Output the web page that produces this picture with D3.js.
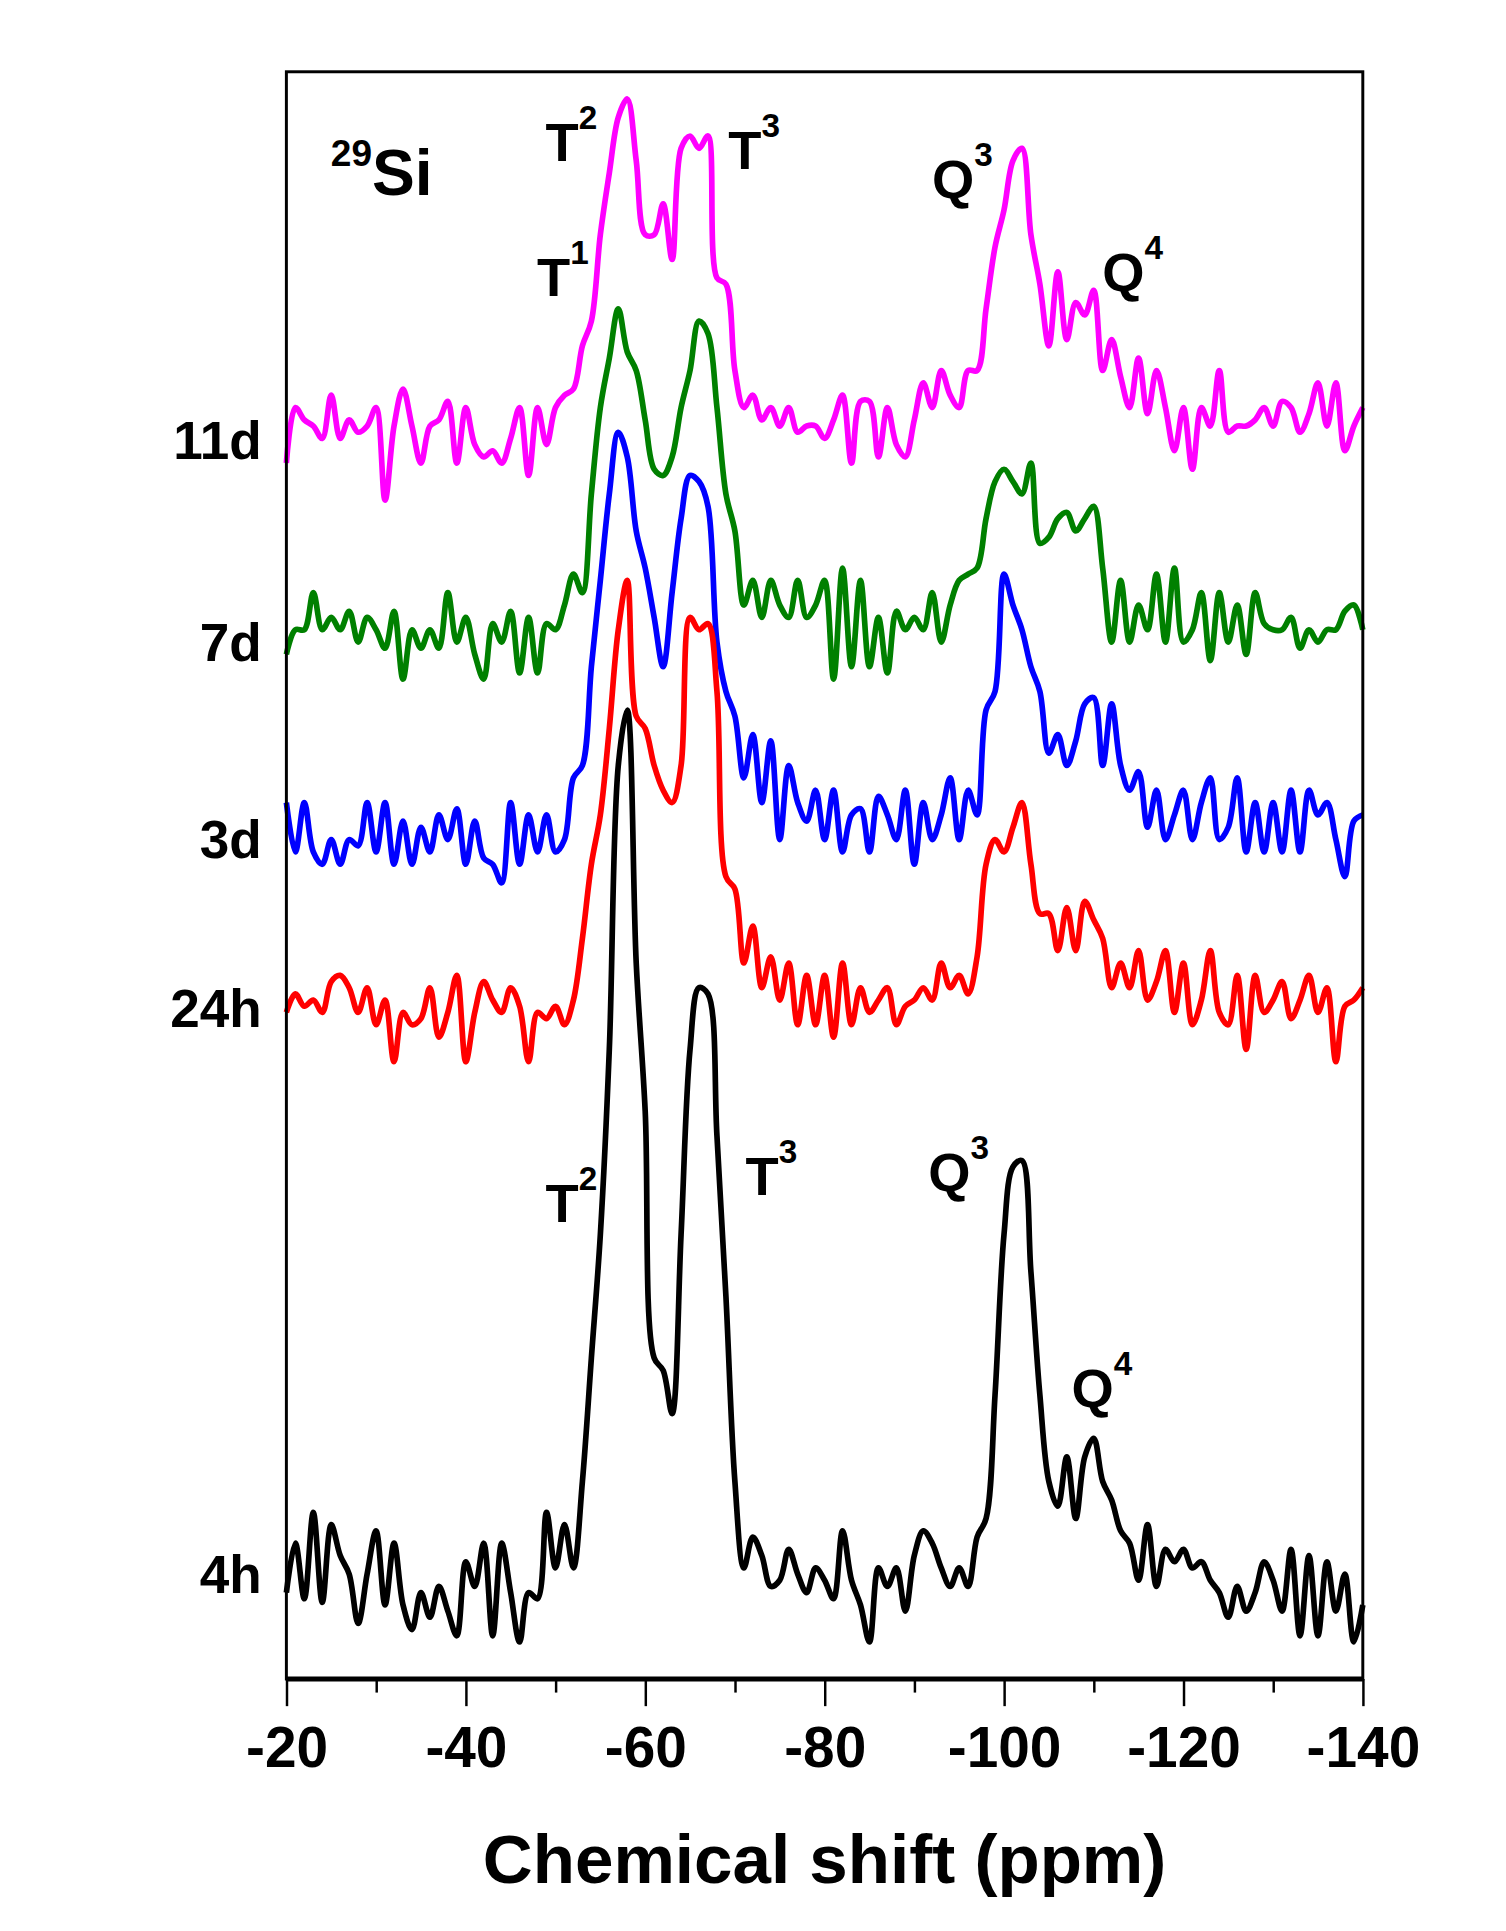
<!DOCTYPE html>
<html><head><meta charset="utf-8">
<script src="https://cdn.jsdelivr.net/npm/d3@7"></script>
<style>body{margin:0;background:#fff}text{font-family:"Liberation Sans",Arial,sans-serif;font-weight:bold}</style>
</head><body><svg id="c" width="1506" height="1931" viewBox="0 0 1220 1564"></svg>
<script>
const ppm = d3.range(-20,-141,-1);
// read trace heights (arbitrary units, larger = lower on the page)
const s4h=[1290,1250,1295,1225,1298,1235,1260,1275,1315,1275,1240,1300,1250,1300,1320,1290,1310,1285,1305,1325,1265,1285,1250,1325,1250,1290,1330,1290,1295,1225,1270,1235,1270,1200,1100,1000,850,620,575,780,900,1100,1110,1145,1000,850,800,805,920,1050,1200,1270,1245,1260,1285,1280,1255,1275,1290,1270,1280,1295,1240,1280,1300,1330,1270,1285,1270,1305,1260,1240,1250,1270,1285,1270,1285,1245,1230,1130,1000,945,940,1030,1130,1200,1220,1180,1230,1180,1165,1200,1215,1240,1250,1280,1235,1285,1255,1265,1255,1270,1265,1280,1290,1310,1285,1305,1290,1265,1280,1305,1255,1325,1260,1325,1265,1305,1275,1330,1300];
const s24h=[820,805,815,810,820,795,790,800,820,800,830,810,860,820,830,825,800,840,820,790,860,820,795,810,820,800,815,860,820,825,815,830,810,760,700,660,590,510,470,580,590,620,640,650,620,500,510,505,560,710,720,780,750,800,775,810,780,830,790,830,790,840,780,830,800,820,810,800,830,815,810,800,810,780,800,790,805,775,700,680,690,670,650,700,740,740,770,735,770,730,745,760,800,780,800,770,810,795,770,820,780,830,810,770,820,830,790,850,790,820,810,795,825,810,790,820,800,860,815,810,800];
const s3d=[650,690,650,690,700,680,700,680,685,650,690,650,700,665,700,670,690,660,680,655,700,665,695,700,715,650,700,660,690,660,690,680,630,620,540,470,400,350,370,430,460,500,540,480,420,385,390,410,520,560,580,630,595,650,600,680,620,650,665,640,680,640,690,660,655,690,645,660,680,640,700,650,680,660,630,680,640,660,575,560,465,490,510,540,560,610,595,620,600,570,565,620,570,620,640,625,670,640,680,660,640,680,650,630,680,670,630,690,650,690,650,690,640,690,640,660,650,680,710,665,660];
const s7d=[530,510,510,480,510,500,510,495,520,500,510,525,495,550,510,525,510,525,480,520,500,530,550,505,520,495,545,500,545,505,510,490,465,480,400,330,290,250,285,300,340,380,385,370,330,300,260,270,330,400,430,490,470,500,470,490,500,470,500,490,470,550,460,540,470,540,500,545,495,510,500,510,480,520,490,470,465,460,420,390,380,390,400,375,440,435,420,415,430,420,410,460,520,470,520,490,510,465,520,460,520,510,480,535,480,520,490,530,480,505,510,510,500,525,510,520,510,510,495,490,510];
const s11d=[375,330,340,345,355,320,355,340,350,345,330,405,345,315,345,375,345,340,325,375,330,360,370,365,375,355,330,385,330,360,330,320,315,280,260,190,140,95,80,130,190,190,165,210,120,110,120,110,225,230,300,330,320,340,330,345,330,350,345,345,355,340,320,375,325,325,370,330,360,370,340,310,330,300,320,330,300,300,250,200,170,130,120,190,230,280,220,275,245,255,235,300,275,305,330,290,335,300,330,365,330,380,330,345,300,350,345,345,340,330,345,325,330,350,335,310,345,310,365,345,330];
const series=[{n:"4h",c:"#000000",v:s4h},{n:"24h",c:"#ff0000",v:s24h},{n:"3d",c:"#0000ff",v:s3d},{n:"7d",c:"#008000",v:s7d},{n:"11d",c:"#ff00ff",v:s11d}];
const labels=[{t:"11d",y:357},{t:"7d",y:520},{t:"3d",y:680},{t:"24h",y:817},{t:"4h",y:1275}];
const xTicks=[-20,-40,-60,-80,-100,-120,-140];
const L=232,R=1104,T=58,B=1360;
const svg=d3.select("#c");
const x=d3.scaleLinear().domain([-20,-140]).range([L,R]);
const y=d3.scaleLinear().domain([T,B]).range([T,B]);
const line=d3.line().x((d,i)=>x(ppm[i])).y(d=>y(d)).curve(d3.curveCatmullRom.alpha(0.5));
series.slice().reverse().forEach(s=>svg.append("path").attr("d",line(s.v)).attr("fill","none").attr("stroke",s.c).attr("stroke-width",4.6).attr("stroke-linejoin","round"));
svg.append("rect").attr("x",L).attr("y",T).attr("width",R-L).attr("height",B-T).attr("fill","none").attr("stroke","#000").attr("stroke-width",2.4);
svg.append("line").attr("x1",L).attr("x2",R).attr("y1",B).attr("y2",B).attr("stroke","#000").attr("stroke-width",4);
const ax=svg.append("g").attr("transform",`translate(0,${B})`).call(d3.axisBottom(x).tickValues(xTicks).tickSize(22).tickFormat(d=>String(d)));
ax.select(".domain").remove();
ax.selectAll("line").attr("stroke-width",2);
ax.selectAll("text").attr("font-size",46).attr("dy","1.0em").attr("fill","#000");
svg.append("g").attr("transform",`translate(0,${B})`).call(d3.axisBottom(x).tickValues(d3.range(-30,-140,-20)).tickSize(11).tickFormat("")).call(g=>{g.select(".domain").remove();g.selectAll("line").attr("stroke-width",2);});
svg.append("text").attr("x",668).attr("y",1525).attr("text-anchor","middle").attr("font-size",56).text("Chemical shift (ppm)");
labels.forEach(l=>svg.append("text").attr("x",212).attr("y",l.y+15).attr("text-anchor","end").attr("font-size",43).text(l.t));
function ann(t,sup,xx,yy,pre,fs){const g=svg.append("text").attr("x",xx).attr("y",yy).attr("font-size",fs||44);
 if(pre){g.append("tspan").attr("font-size",30).attr("dy",-24).text(pre);g.append("tspan").attr("dy",24).text(t);}
 else{g.append("tspan").text(t);g.append("tspan").attr("font-size",27).attr("dy",-26).text(sup);}}
ann("Si","",268,158,"29",52);
ann("T","2",442,130);ann("T","3",590,137);ann("T","1",435,240);ann("Q","3",755,160);ann("Q","4",893,236);
ann("T","2",442,990);ann("T","3",604,968);ann("Q","3",752,965);ann("Q","4",868,1140);
</script></body></html>
